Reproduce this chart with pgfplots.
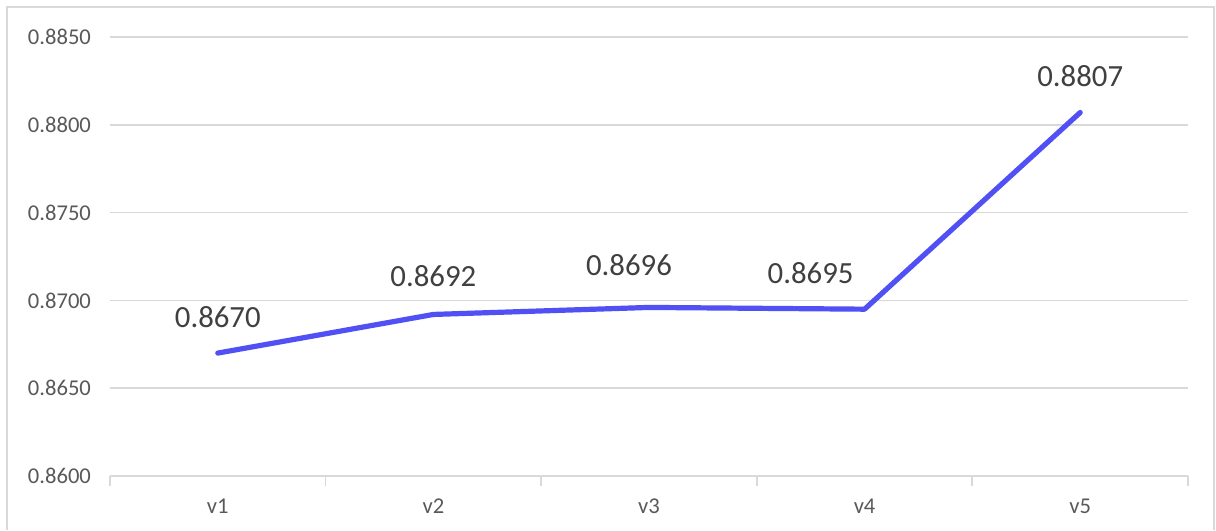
\documentclass[border=0pt]{standalone}
\usepackage{pgfplots}
\pgfplotsset{compat=1.18}
\usepackage{fontspec}
\setmainfont{Carlito}
\definecolor{gridgray}{HTML}{D9D9D9}
\definecolor{ticktext}{HTML}{595959}
\definecolor{labeltext}{HTML}{404040}
\definecolor{linecol}{HTML}{5050F5}
\begin{document}
\begin{tikzpicture}
\begin{axis}[
  name=ax,
  scale only axis,
  width=539pt, height=219.5pt,
  xmin=-0.5, xmax=4.5,
  ymin=0.8600, ymax=0.8850,
  ytick={0.8600,0.8650,...,0.8851},
  xtick={0,1,2,3,4},
  xticklabels={v1,v2,v3,v4,v5},
  minor xtick={-0.5,0.5,1.5,2.5,3.5,4.5},
  major tick length=0pt,
  minor tick length=5pt,
  tick align=outside,
  minor tick style={gridgray, line width=0.9pt},
  ymajorgrids,
  grid style={gridgray, line width=0.8pt},
  axis x line*=bottom,
  axis y line*=left,
  y axis line style={draw=none},
  x axis line style={draw=gridgray, line width=0.9pt, -},
  yticklabel style={
    /pgf/number format/fixed,
    /pgf/number format/fixed zerofill,
    /pgf/number format/precision=4,
    xshift=-6pt,
  },
  /pgf/number format/assume math mode=true,
  ticklabel style={font=\fontsize{11.3}{13}\selectfont, text=ticktext},
  xticklabel style={yshift=-8pt},
  clip=false,
]
% data labels sit above each point; dx/dy nudge them clear of the line
\addplot[linecol, line width=2.6pt, line join=round, line cap=round,
  nodes near coords,
  point meta=explicit symbolic,
  visualization depends on={\thisrow{dx} \as \dx},
  visualization depends on={\thisrow{dy} \as \dy},
  every node near coord/.append style={font=\fontsize{15.4}{18}\selectfont,
    text=labeltext, anchor=center, xshift=\dx pt, yshift=\dy pt},
] table[meta=lab] {
x y lab dx dy
0 0.8670 0.8670 0 18
1 0.8692 0.8692 0 19
2 0.8696 0.8696 -10 21
3 0.8695 0.8695 -27 18
4 0.8807 0.8807 0 18
};
\end{axis}
% chart frame
\draw[gridgray, line width=0.9pt]
  ([xshift=-51.5pt,yshift=-27pt]ax.south west) -- ([xshift=-51.5pt,yshift=234.5pt]ax.south west)
  -- ([xshift=552pt,yshift=234.5pt]ax.south west) -- ([xshift=552pt,yshift=-27pt]ax.south west);
\useasboundingbox ([xshift=-55pt,yshift=-27pt]ax.south west) rectangle ([xshift=553pt,yshift=238pt]ax.south west);
\end{tikzpicture}
\end{document}
